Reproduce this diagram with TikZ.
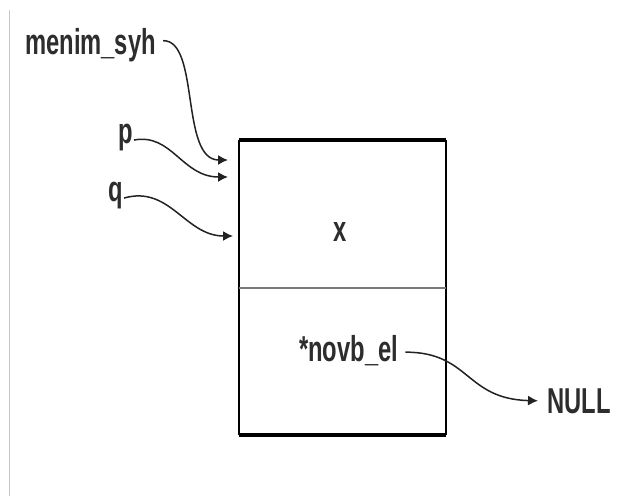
\documentclass[tikz,border=0pt]{standalone}
\usepackage{fontspec}
\setmainfont{Liberation Sans}[FakeStretch=0.66]
\usepackage{tikz}
\usetikzlibrary{arrows.meta,positioning}
\definecolor{lltext}{RGB}{45,45,45}
\definecolor{llline}{RGB}{34,34,34}
\definecolor{lldiv}{RGB}{120,120,120}
\definecolor{llpage}{RGB}{200,200,200}

\begin{document}
\begin{tikzpicture}[x=1pt, y=-1pt,
        lbl/.style={inner sep=1pt, text=lltext, font=\fontsize{36}{42}\selectfont\bfseries},
        ptr/.style={-{Latex[length=10pt,width=10pt]}, line width=1.5pt, draw=llline},
        edge/.style={line width=3.5pt, black}
      ]
      \useasboundingbox (0,0) rectangle (626,496);
      \draw[llpage, line width=1pt] (9,10) -- (9,496);
      % the list element
      \coordinate (tl) at (239,140);
      \coordinate (br) at (446,435);
      \draw[line width=2.2pt] (tl) -- (tl |- br);
      \draw[line width=2.2pt] (br) -- (br |- tl);
      \draw[edge] (tl) -- (br |- tl);
      \draw[edge] (tl |- br) -- (br);
      \draw[lldiv, line width=2.5pt] (239,288) -- (446,288);
      \node[lbl, anchor=base] (xval) at (340,241) {x};
      \node[lbl, anchor=base west] (next) at (298,361) {*novb\_el};
      \node[lbl, anchor=base west] (null) at (546,413) {NULL};
      % pointers
      \node[lbl, anchor=base west] (menim) at (24,54) {menim\_syh};
      \node[lbl, anchor=base east] (p) at (134,143) {p};
      \node[lbl, anchor=base east] (q) at (124,201) {q};
      \coordinate (mtip) at (228,160);
      \coordinate (ptip) at (228,177);
      \coordinate (qtip) at (233,236);
      \draw[ptr] ([xshift=6pt,yshift=4pt]menim.east) .. controls (200,40) and (180,160) .. (mtip);
      \draw[ptr] ([yshift=-3pt]p.east) .. controls (172,133) and (182,177) .. (ptip);
      \draw[ptr] ([yshift=-3pt]q.east) .. controls (170,185) and (185,236) .. (qtip);
      \draw[ptr] ([xshift=6pt,yshift=-2pt]next.east) .. controls (470,352) and (465,399) .. ([xshift=-8pt]null.west);
    \end{tikzpicture}
\end{document}
